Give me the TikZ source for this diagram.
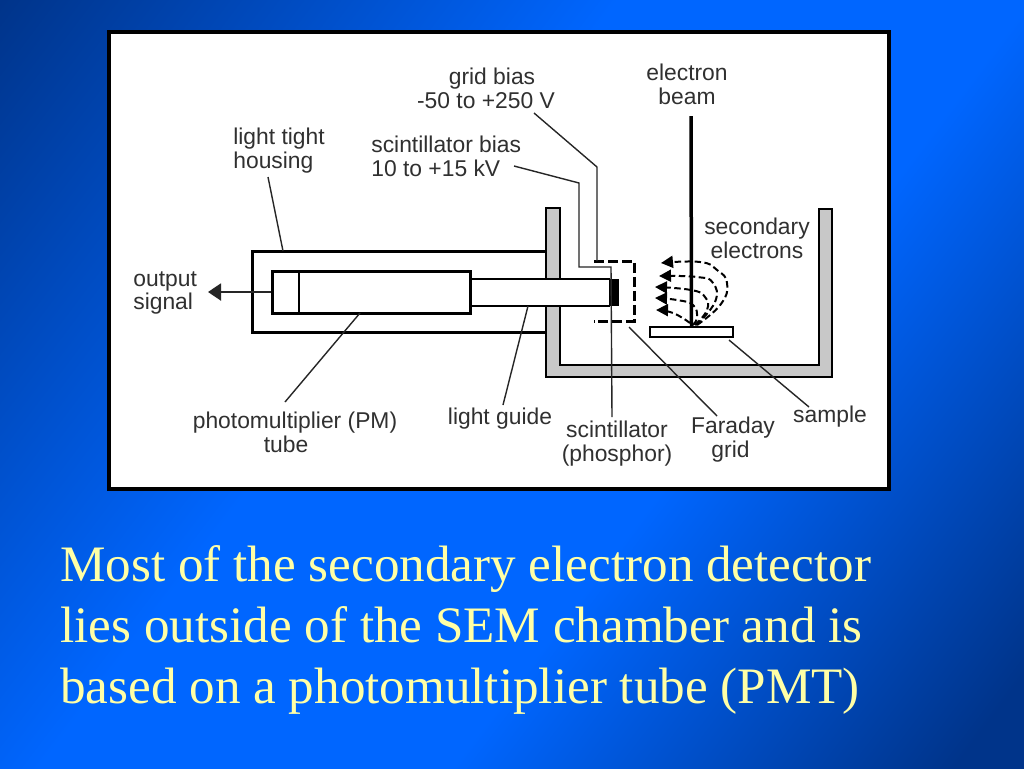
\documentclass[tikz,border=0pt]{standalone}
\usepackage{fontspec}
\setmainfont{Liberation Sans}
\newfontfamily\slidefont{Liberation Serif}
\usetikzlibrary{arrows.meta}
\definecolor{bgdark}{HTML}{00348A}
\definecolor{bgbright}{HTML}{0066FF}
\definecolor{slideyellow}{HTML}{FFFFA6}
\definecolor{labelgrey}{HTML}{303030}
\definecolor{wallgrey}{HTML}{C8C8C8}
\pgfdeclarehorizontalshading{slidebg}{100bp}{color(0bp)=(bgdark); color(15bp)=(bgdark); color(42bp)=(bgbright); color(60bp)=(bgbright); color(82bp)=(bgdark); color(100bp)=(bgdark)}
\tikzset{
    lbl/.style={font=\fontsize{13pt}{13.6pt}\selectfont, text=labelgrey, inner sep=0pt, align=center},
    lblleft/.style={lbl, align=left, anchor=west},
    leader/.style={draw=black!85, line width=0.028cm},
    wire/.style={draw=black!85, line width=0.03cm},
    box/.style={draw=black, fill=white, rectangle, inner sep=0pt, line width=0.06cm},
    thinbox/.style={box, line width=0.03cm},
    gridline/.style={draw=black, line width=0.06cm, dash pattern=on 0.2cm off 0.08cm},
    electron/.style={draw=black, line width=0.04cm, dash pattern=on 0.13cm off 0.07cm, -{Triangle[length=0.24cm,width=0.24cm]}}
}
\begin{document}
\begin{tikzpicture}[x=0.02cm,y=-0.02cm]
    \useasboundingbox (0,0) rectangle (1024,768);
    \shade[shading=slidebg, shading angle=-37] (0,0) rectangle (1024,768);
    \draw[line width=0.08cm, fill=white] (109,32) rectangle (889,489);
    % chamber
    \draw[fill=wallgrey, line width=0.03cm] (546,208) -- (560,208) -- (560,365) -- (819,365) -- (819,209) -- (832,209) -- (832,377) -- (546,377) -- cycle;
    % housing
    \draw[line width=0.06cm] (546,251) -- (252,251) -- (252,332) -- (546,332);
    \node[thinbox, minimum width=2.78cm, minimum height=0.54cm] (guide) at (540,292.5) {};
    \node[box, minimum width=3.98cm, minimum height=0.84cm] (tube) at (371.5,292) {};
    \draw[line width=0.03cm] (299,271) -- (299,313);
    \node[rectangle, fill=black, inner sep=0pt, minimum width=0.18cm, minimum height=0.54cm] (scint) at (614,292.5) {};
    \node[thinbox, minimum width=1.66cm, minimum height=0.2cm] (plate) at (691.5,332) {};
    \coordinate (sigtip) at (208,292);
    \draw[wire, line width=0.04cm, -{Triangle[length=0.26cm,width=0.34cm]}] (tube.west) -- (sigtip);
    % beam
    \coordinate (beamtop) at (691,116);
    \draw[line width=0.07cm] (beamtop) -- (plate.north);
    % grid
    \draw[gridline] (594,261) -- (634,261) -- (634,321) -- (594,321);
    % labels
    \node[lbl] (gridlbl) at (486,88) {\hspace{0.24cm}grid bias\\-50 to +250 V};
    \node[lbl] (beamlbl) at (687,84) {electron\\beam};
    \node[lblleft] (housinglbl) at (233,151) {light tight\\housing};
    \node[lblleft] (biaslbl) at (371,156) {scintillator bias\\10 to +15 kV};
    \node[lbl] (seclbl) at (757,238) {secondary\\electrons};
    \node[lblleft] (outlbl) at (133,293) {output\\signal};
    \node[lbl] (pmlbl) at (295,432) {photomultiplier (PM)\\tube\hspace{0.36cm}\null};
    \node[lbl] (guidelbl) at (500,419) {light guide};
    \node[lbl] (scintlbl) at (617,444) {scintillator\\(phosphor)};
    \node[lbl] (gridfarlbl) at (733,440) {Faraday\\grid\hspace{0.1cm}\null};
    \node[lbl] (samplelbl) at (830,417) {sample};
    % leaders
    \coordinate (biasend) at (514,166);
    \coordinate (gridend) at (534,113);
    \coordinate (housingend) at (268,177);
    \coordinate (housinghit) at (283,251);
    \coordinate (pmhit) at (360,313);
    \coordinate (pmend) at (285,402);
    \coordinate (guidehit) at (528,306);
    \coordinate (guideend) at (503,405);
    \coordinate (scintend) at (612,417);
    \coordinate (farhit) at (629,327);
    \coordinate (farend) at (717,416);
    \coordinate (samplehit) at (729,340);
    \coordinate (sampleend) at (809,407);
    \draw[leader] (biasend) -- (579,183) -- (579,267) -- (611,267) -- (scintend);
    \draw[leader] (gridend) -- (597,167) -- (597,261);
    \draw[leader] (housingend) -- (housinghit);
    \draw[leader] (pmhit) -- (pmend);
    \draw[leader] (guidehit) -- (guideend);
    \draw[leader] (farhit) -- (farend);
    \draw[leader] (samplehit) -- (sampleend);
    % secondary electrons
    \draw[electron] plot [smooth, tension=0.8] coordinates {(697,325) (721,304) (727,283) (717,270) (700,262) (661,263)};
    \draw[electron] plot [smooth, tension=0.8] coordinates {(696,325) (715,302) (713,283) (697,277) (659,276)};
    \draw[electron] plot [smooth, tension=0.8] coordinates {(695,325) (707,310) (705,297) (691,290) (655,287)};
    \draw[electron] plot [smooth, tension=0.8] coordinates {(693,325) (697,317) (693,305) (677,300) (655,298)};
    \draw[electron] plot [smooth, tension=0.8] coordinates {(690,323) (673,313) (656,310)};
    % slide text
    \node[anchor=north west, inner sep=0pt, align=left, text=slideyellow, font=\slidefont\fontsize{29.1pt}{34.6pt}\selectfont] (caption) at (60,545.5) {Most of the secondary electron detector\\lies outside of the SEM chamber and is\\based on a photomultiplier tube (PMT)};
\end{tikzpicture}
\end{document}
